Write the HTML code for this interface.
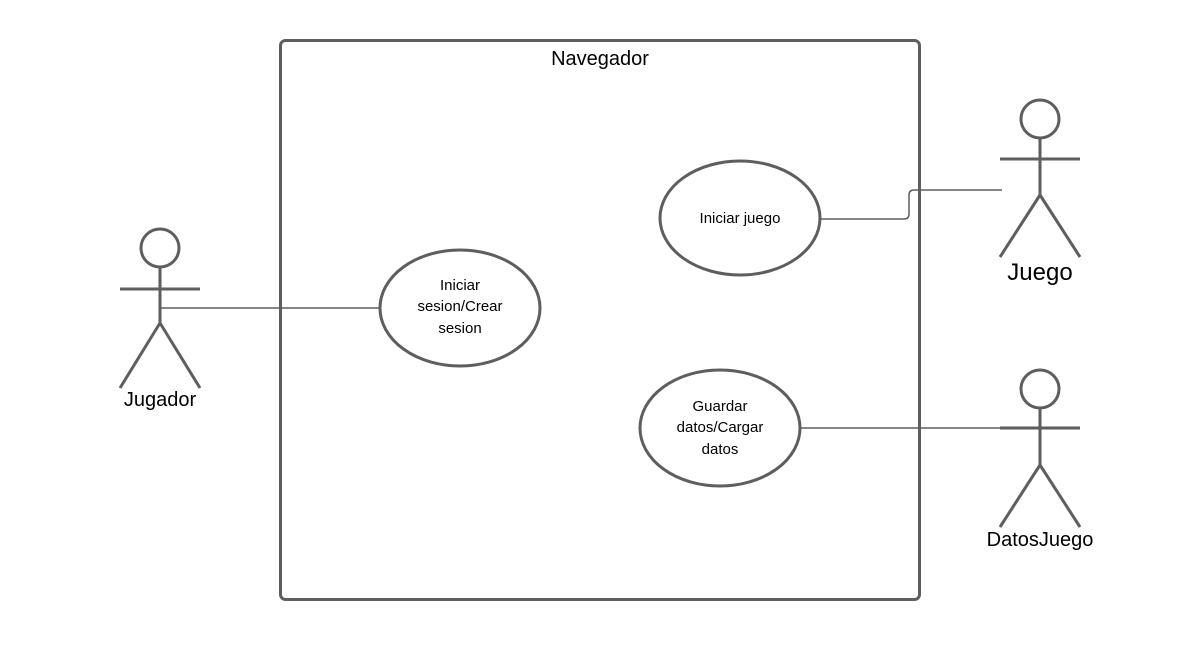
<!DOCTYPE html>
<html><head><meta charset="utf-8"><style>html,body{margin:0;padding:0;background:#fff}</style></head>
<body>
<svg width="1200" height="640" viewBox="0 0 1200 640" xmlns="http://www.w3.org/2000/svg" font-family="Liberation Sans, sans-serif">
<rect width="1200" height="640" fill="#fff"/>
<rect x="280.5" y="40.5" width="639" height="559" rx="5" fill="none" stroke="#5e5e5e" stroke-width="3"/>
<text x="600" y="65" font-size="20" text-anchor="middle" fill="#000">Navegador</text>
<g stroke="#5e5e5e" stroke-width="3" fill="none">
<circle cx="160" cy="248" r="19"/>
<line x1="160" y1="267" x2="160" y2="323"/>
<line x1="120" y1="289" x2="200" y2="289"/>
<line x1="160" y1="323" x2="120" y2="388"/>
<line x1="160" y1="323" x2="200" y2="388"/>
<circle cx="1040" cy="119" r="19"/>
<line x1="1040" y1="138" x2="1040" y2="195"/>
<line x1="1000" y1="159" x2="1080" y2="159"/>
<line x1="1040" y1="195" x2="1000" y2="257"/>
<line x1="1040" y1="195" x2="1080" y2="257"/>
<circle cx="1040" cy="389" r="19"/>
<line x1="1040" y1="408" x2="1040" y2="465"/>
<line x1="1000" y1="428" x2="1080" y2="428"/>
<line x1="1040" y1="465" x2="1000" y2="527"/>
<line x1="1040" y1="465" x2="1080" y2="527"/>
<ellipse cx="460" cy="308" rx="80" ry="58"/>
<ellipse cx="740" cy="218" rx="80" ry="57"/>
<ellipse cx="720" cy="428" rx="80" ry="58"/>
</g>
<g stroke="#5e5e5e" stroke-width="1.5" fill="none">
<line x1="160" y1="308" x2="380" y2="308"/>
<path d="M820 219 H904 Q909 219 909 214 V195 Q909 190 914 190 H1002"/>
<line x1="800" y1="428" x2="1002" y2="428"/>
</g>
<g font-size="15" text-anchor="middle" fill="#000">
<text x="460" y="290">Iniciar</text>
<text x="460" y="311">sesion/Crear</text>
<text x="460" y="333">sesion</text>
<text x="740" y="223">Iniciar juego</text>
<text x="720" y="411">Guardar</text>
<text x="720" y="432">datos/Cargar</text>
<text x="720" y="454">datos</text>
</g>
<text x="160" y="406" font-size="20" text-anchor="middle">Jugador</text>
<text x="1040" y="280" font-size="24" text-anchor="middle">Juego</text>
<text x="1040" y="546" font-size="20" text-anchor="middle">DatosJuego</text>
</svg>
</body></html>
